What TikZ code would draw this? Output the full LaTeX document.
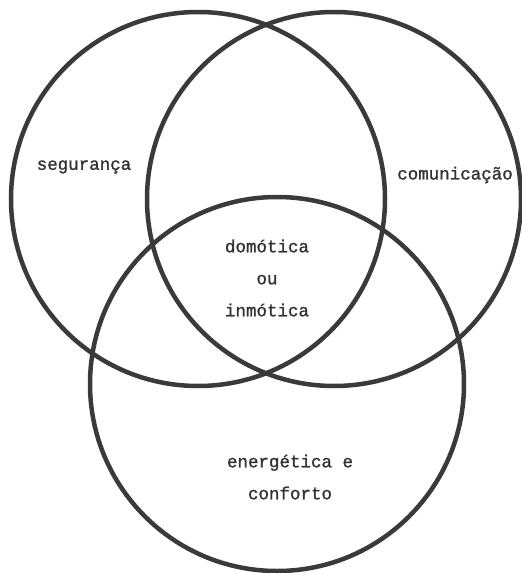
\documentclass[tikz,border=0pt]{standalone}
\usepackage{fontspec}
\setmonofont[FakeBold=1.2,BoldFont=Liberation Mono]{Liberation Mono}
\definecolor{ink}{HTML}{3A3A3A}
\definecolor{txt}{HTML}{333333}
\begin{document}
\begin{tikzpicture}[x=1pt,y=1pt,
  venn/.style={circle, draw=ink, line width=4.5pt, minimum size=374pt, inner sep=0pt, outer sep=0pt},
  lbl/.style={text=txt, font=\ttfamily\bfseries\fontsize{17.5}{32}\selectfont, align=center, inner sep=0pt}]
\useasboundingbox (0,0) rectangle (522,-573);
\node[venn] (left) at (198,-199) {};
\node[venn] (right) at (334,-199) {};
\node[venn] (bottom) at (277,-384) {};
\node[lbl] (seg) at (84,-167) {segurança};
\node[lbl] (com) at (455,-175) {comunicação};
\node[lbl] (dom) at (267,-278) {domótica\\ou\\inmótica};
\node[lbl] (ene) at (290,-477) {energética e\\conforto};
\end{tikzpicture}
\end{document}
